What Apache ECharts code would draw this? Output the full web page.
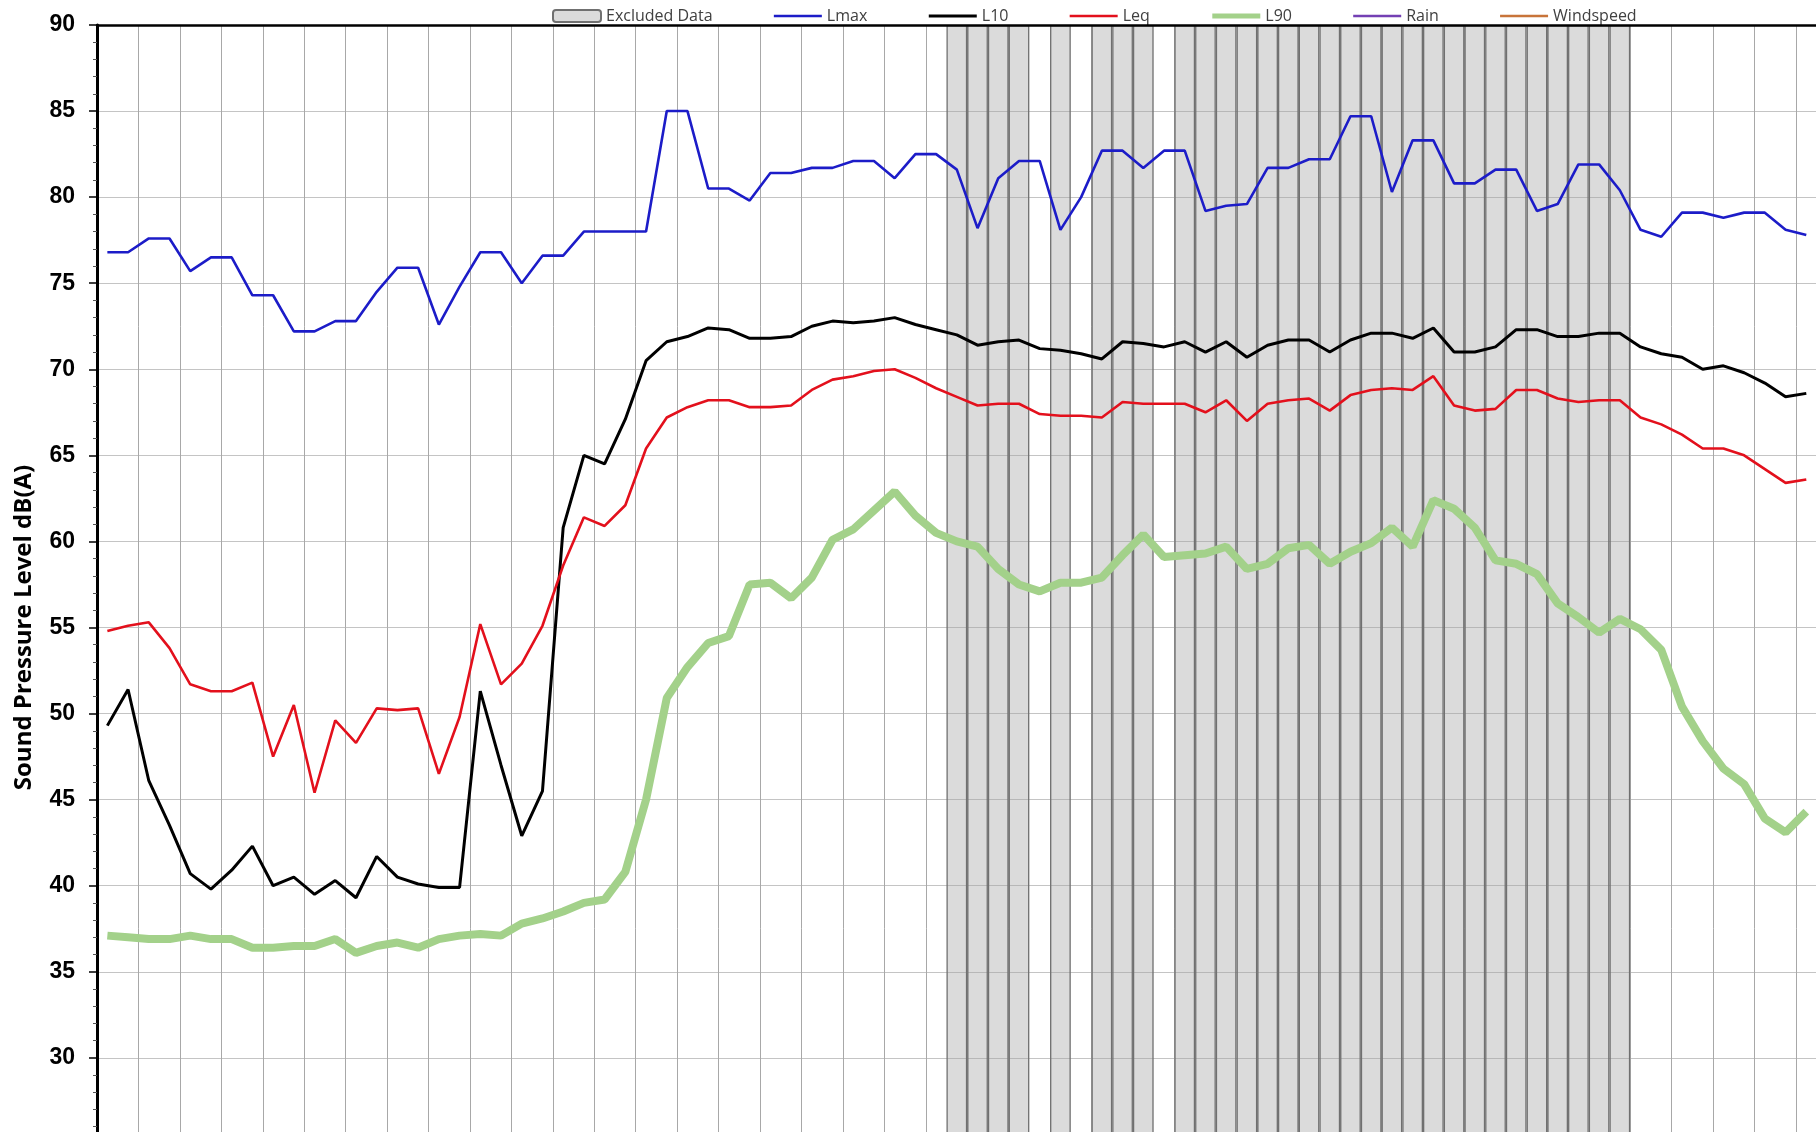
<!DOCTYPE html>
<html>
<head>
<meta charset="utf-8">
<title>Sound Pressure Level</title>
<script src="https://cdn.jsdelivr.net/npm/echarts@6/dist/echarts.min.js"></script>
<style>
  html, body { margin: 0; padding: 0; background: #fff; overflow: hidden; }
  #noiseChart { width: 2200px; height: 1300px; }
</style>
</head>
<body>
<div id="noiseChart"></div>
<script>
/* 15 min intervals over one day, only the first 83 have data */
var timeLabels = [];
for (var h = 0; h < 24; h++) {
    for (var m = 0; m < 60; m += 15) {
        timeLabels.push((h < 10 ? '0' + h : h) + ':' + (m < 10 ? '0' + m : m));
    }
}

var lmaxData = [76.8,76.8,77.6,77.6,75.7,76.5,76.5,74.3,74.3,72.2,
                72.2,72.8,72.8,74.5,75.9,75.9,72.6,74.8,76.8,76.8,
                75.0,76.6,76.6,78.0,78.0,78.0,78.0,85.0,85.0,80.5,
                80.5,79.8,81.4,81.4,81.7,81.7,82.1,82.1,81.1,82.5,
                82.5,81.6,78.2,81.1,82.1,82.1,78.1,80.0,82.7,82.7,
                81.7,82.7,82.7,79.2,79.5,79.6,81.7,81.7,82.2,82.2,
                84.7,84.7,80.3,83.3,83.3,80.8,80.8,81.6,81.6,79.2,
                79.6,81.9,81.9,80.4,78.1,77.7,79.1,79.1,78.8,79.1,
                79.1,78.1,77.8];

var l10Data = [49.3,51.4,46.1,43.5,40.7,39.8,40.9,42.3,40.0,40.5,
               39.5,40.3,39.3,41.7,40.5,40.1,39.9,39.9,51.3,47.0,
               42.9,45.5,60.8,65.0,64.5,67.1,70.5,71.6,71.9,72.4,
               72.3,71.8,71.8,71.9,72.5,72.8,72.7,72.8,73.0,72.6,
               72.3,72.0,71.4,71.6,71.7,71.2,71.1,70.9,70.6,71.6,
               71.5,71.3,71.6,71.0,71.6,70.7,71.4,71.7,71.7,71.0,
               71.7,72.1,72.1,71.8,72.4,71.0,71.0,71.3,72.3,72.3,
               71.9,71.9,72.1,72.1,71.3,70.9,70.7,70.0,70.2,69.8,
               69.2,68.4,68.6];

var leqData = [54.8,55.1,55.3,53.8,51.7,51.3,51.3,51.8,47.5,50.5,
               45.4,49.6,48.3,50.3,50.2,50.3,46.5,49.8,55.2,51.7,
               52.9,55.1,58.6,61.4,60.9,62.1,65.4,67.2,67.8,68.2,
               68.2,67.8,67.8,67.9,68.8,69.4,69.6,69.9,70.0,69.5,
               68.9,68.4,67.9,68.0,68.0,67.4,67.3,67.3,67.2,68.1,
               68.0,68.0,68.0,67.5,68.2,67.0,68.0,68.2,68.3,67.6,
               68.5,68.8,68.9,68.8,69.6,67.9,67.6,67.7,68.8,68.8,
               68.3,68.1,68.2,68.2,67.2,66.8,66.2,65.4,65.4,65.0,
               64.2,63.4,63.6];

var l90Data = [37.1,37.0,36.9,36.9,37.1,36.9,36.9,36.4,36.4,36.5,
               36.5,36.9,36.1,36.5,36.7,36.4,36.9,37.1,37.2,37.1,
               37.8,38.1,38.5,39.0,39.2,40.8,45.0,50.9,52.7,54.1,
               54.5,57.5,57.6,56.7,57.9,60.1,60.7,61.8,62.9,61.5,
               60.5,60.0,59.7,58.4,57.5,57.1,57.6,57.6,57.9,59.2,
               60.4,59.1,59.2,59.3,59.7,58.4,58.7,59.6,59.8,58.7,
               59.4,59.9,60.8,59.7,62.4,61.9,60.8,58.9,58.7,58.1,
               56.4,55.6,54.7,55.5,54.9,53.7,50.4,48.4,46.8,45.9,
               43.9,43.1,44.3];

var rainData = [];       //no rain in this period
var windData = [];       //no wind data in this period

// intervals flagged as excluded (index into timeLabels)
var excludedIdx = [41,42,43,44,46,48,49,50,
                   52,53,54,55,56,57,58,59,60,61,62,
                   63,64,65,66,67,68,69,70,71,72,73];
var excludedData = timeLabels.map(function (t, i) {
    return excludedIdx.indexOf(i) >= 0 ? 90 : '-';
});

var yTicks = { min: 20, max: 90, step: 5 };

var noiseChart = echarts.init(document.getElementById('noiseChart'));

// legend entries for lines: plain line, no dot in the middle
var noDot = { opacity: 0, color: 'rgba(0,0,0,0)', borderWidth: 0 };

var noiseOption = {
    backgroundColor: '#ffffff',
    animation: false,
    legend: {
        left: 547,
        top: 3,
        itemWidth: 48,
        itemHeight: 12,
        itemGap: 60,
        textStyle: { fontFamily: 'Open Sans', fontSize: 16, color: '#404040' },
        data: [
            { name: 'Excluded Data' },
            { name: 'Lmax', itemStyle: noDot, lineStyle: { width: 2.5 } },
            { name: 'L10', itemStyle: noDot, lineStyle: { width: 3 } },
            { name: 'Leq', itemStyle: noDot, lineStyle: { width: 2.5 } },
            { name: 'L90', itemStyle: noDot, lineStyle: { width: 5 } },
            { name: 'Rain', itemStyle: noDot, lineStyle: { width: 2.5 } },
            { name: 'Windspeed', itemStyle: noDot, lineStyle: { width: 2.5 } }
        ]
    },
    grid: {
        left: 97,
        top: 25,
        width: 1989,
        height: 1205
    },
    xAxis: [{
        type: 'category',
        data: timeLabels,
        boundaryGap: true,
        axisLine: { lineStyle: { color: '#000', width: 2 } },
        axisTick: { show: false },
        axisLabel: { show: false },
        splitLine: {
            show: true,
            interval: 1,
            lineStyle: { color: '#a8a8a8', width: 1 }
        }
    }, {
        // only used for the black frame line at the top
        type: 'category',
        data: timeLabels,
        position: 'top',
        z: 5,
        axisLine: { lineStyle: { color: '#000', width: 2.5 } },
        axisTick: { show: false },
        axisLabel: { show: false },
        splitLine: { show: false }
    }],
    yAxis: {
        type: 'value',
        min: yTicks.min,
        max: yTicks.max,
        interval: yTicks.step,
        name: 'Sound Pressure Level dB(A)',
        nameLocation: 'middle',
        nameGap: 61,
        nameTextStyle: {
            fontFamily: 'Open Sans',
            fontWeight: 'bold',
            fontSize: 24,
            color: '#000'
        },
        axisLine: { show: true, lineStyle: { color: '#000', width: 3 } },
        axisTick: { show: true, length: 8, lineStyle: { color: '#000', width: 1.5 } },
        minorTick: { show: true, splitNumber: 5, length: 4, lineStyle: { color: '#555', width: 1 } },
        axisLabel: {
            margin: 22,
            fontFamily: 'Liberation Sans',
            fontWeight: 'bold',
            fontSize: 23,
            color: '#000'
        },
        splitLine: { lineStyle: { color: '#c4c4c4', width: 1 } }
    },
    series: [{
        name: 'Excluded Data',
        type: 'bar',
        barCategoryGap: '0%',
        data: excludedData,
        itemStyle: {
            color: 'rgba(165,165,165,0.4)',
            borderColor: '#707070',
            borderWidth: 1.3
        }
    }, {
        name: 'Lmax',
        type: 'line',
        showSymbol: false,
        symbol: 'none',
        data: lmaxData,
        itemStyle: { color: '#1c1cc8' },
        lineStyle: { color: '#1c1cc8', width: 2.6 }
    }, {
        name: 'L10',
        type: 'line',
        showSymbol: false,
        symbol: 'none',
        data: l10Data,
        itemStyle: { color: '#000000' },
        lineStyle: { color: '#000000', width: 3 }
    }, {
        name: 'Leq',
        type: 'line',
        showSymbol: false,
        symbol: 'none',
        data: leqData,
        itemStyle: { color: '#e3101c' },
        lineStyle: { color: '#e3101c', width: 2.6 }
    }, {
        name: 'L90',
        type: 'line',
        showSymbol: false,
        symbol: 'none',
        data: l90Data,
        itemStyle: { color: '#a3d18a' },
        lineStyle: { color: '#a3d18a', width: 8 }
    }, {
        name: 'Rain',
        type: 'line',
        symbol: 'none',
        data: rainData,
        itemStyle: { color: '#7440b4' },
        lineStyle: { color: '#7440b4', width: 2.5 }
    }, {
        name: 'Windspeed',
        type: 'line',
        symbol: 'none',
        data: windData,
        itemStyle: { color: '#c8743a' },
        lineStyle: { color: '#c8743a', width: 2.5 }
    }]
};

noiseChart.setOption(noiseOption);
</script>
</body>
</html>
